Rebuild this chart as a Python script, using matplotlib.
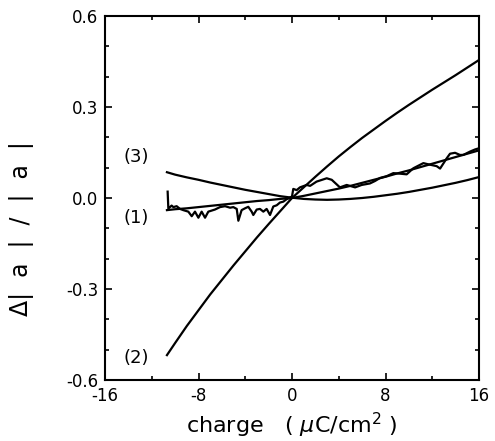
import numpy as np
import matplotlib
matplotlib.use("Agg")
import matplotlib.pyplot as plt
from matplotlib.ticker import MultipleLocator

# ---- data ----
x_theory = [-10.7, -10, -9, -8, -7, -6, -5, -4, -3, -2, -1, 0, 1, 2, 3, 4, 5, 6, 7, 8,
            9, 10, 11, 12, 13, 14, 15, 16]
curve1 = [-0.040, -0.037, -0.034, -0.030, -0.026, -0.022, -0.018, -0.014, -0.010, -0.007,
          -0.003, 0.000, 0.007, 0.015, 0.023, 0.031, 0.040, 0.050, 0.060, 0.070,
          0.081, 0.091, 0.102, 0.113, 0.124, 0.135, 0.146, 0.157]
curve2 = [-0.518, -0.478, -0.422, -0.370, -0.318, -0.270, -0.222, -0.176, -0.130, -0.086,
          -0.043, 0.000, 0.035, 0.070, 0.104, 0.137, 0.168, 0.198, 0.226, 0.254,
          0.281, 0.307, 0.332, 0.357, 0.381, 0.405, 0.430, 0.455]
curve3 = [0.085, 0.077, 0.068, 0.060, 0.051, 0.043, 0.035, 0.027, 0.020, 0.013,
          0.006, 0.001, -0.003, -0.005, -0.006, -0.005, -0.003, 0.000, 0.004, 0.009,
          0.014, 0.020, 0.027, 0.034, 0.042, 0.050, 0.059, 0.069]

x_exp = [-10.64, -10.58, -10.30, -10.15, -9.87, -9.58, -9.30, -8.87, -8.58, -8.30,
         -8.01, -7.73, -7.44, -7.16, -6.59, -6.16, -5.73, -5.30, -5.02, -4.73,
         -4.59, -4.31, -4.02, -3.74, -3.45, -3.31, -3.02, -2.74, -2.45, -2.17,
         -1.88, -1.60, -1.31, -1.03, -0.74, -0.46, 0.00, 0.11, 0.40, 0.68,
         1.25, 1.55, 2.10, 2.97, 3.40, 4.10, 4.68, 5.40, 5.96, 6.67,
         7.10, 7.53, 8.10, 8.67, 9.30, 9.81, 10.38, 11.24, 11.67, 12.38,
         12.67, 13.24, 13.52, 13.95, 14.37, 14.66, 15.23, 15.66, 16.00]
y_exp = [0.021, -0.035, -0.025, -0.030, -0.027, -0.036, -0.040, -0.045, -0.060, -0.045,
         -0.065, -0.045, -0.065, -0.045, -0.038, -0.030, -0.027, -0.032, -0.030, -0.036,
         -0.075, -0.040, -0.034, -0.029, -0.045, -0.056, -0.038, -0.036, -0.045, -0.036,
         -0.056, -0.028, -0.024, -0.015, -0.012, -0.004, 0.005, 0.030, 0.026, 0.035,
         0.043, 0.040, 0.054, 0.065, 0.060, 0.035, 0.043, 0.035, 0.043, 0.048,
         0.056, 0.066, 0.072, 0.082, 0.080, 0.078, 0.098, 0.115, 0.111, 0.105,
         0.097, 0.131, 0.146, 0.149, 0.142, 0.142, 0.153, 0.160, 0.164]

curve_labels = ["(1)", "(2)", "(3)"]
label_y = [-0.066, -0.528, 0.135]
label_x = -13.3

xticks = [-16, -8, 0, 8, 16]
yticks = [-0.6, -0.3, 0.0, 0.3, 0.6]
xticklabels = ["-16", "-8", "0", "8", "16"]
yticklabels = ["-0.6", "-0.3", "0.0", "0.3", "0.6"]

# ---- figure ----
fig = plt.figure(figsize=(4.95, 4.41), dpi=100)
ax = fig.add_axes([105/495, 1 - 380/441, (479 - 105)/495, (380 - 16)/441])

lw = 1.6
ax.plot(x_theory, curve1, color="black", lw=lw)
ax.plot(x_theory, curve2, color="black", lw=lw)
ax.plot(x_theory, curve3, color="black", lw=lw)
ax.plot(x_exp, y_exp, color="black", lw=lw)

for lab, ly in zip(curve_labels, label_y):
    ax.text(label_x, ly, lab, fontsize=13, ha="center", va="center", color="black")

ax.set_xlim(-16, 16)
ax.set_ylim(-0.6, 0.6)
ax.set_xticks(xticks)
ax.set_xticklabels(xticklabels)
ax.set_yticks(yticks)
ax.set_yticklabels(yticklabels)
ax.xaxis.set_minor_locator(MultipleLocator(4))
ax.yaxis.set_minor_locator(MultipleLocator(0.1))
ax.tick_params(which="both", direction="in", top=True, right=True, width=1.2)
ax.tick_params(which="major", length=5, labelsize=12, pad=5)
ax.tick_params(which="minor", length=3)
for s in ax.spines.values():
    s.set_linewidth(1.5)

ax.set_xlabel("charge   ( $\\mu$C/cm$^2$ )", fontsize=16, labelpad=4)
ax.set_ylabel("Δ|  a  |  /  |  a  |", fontsize=17)
ax.yaxis.set_label_coords(-0.19, 0.415)

fig.savefig("out.png", dpi=100)
